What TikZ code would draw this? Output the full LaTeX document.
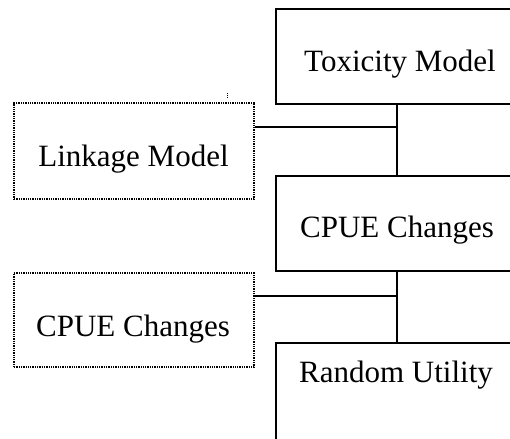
\documentclass[tikz,border=0pt]{standalone}
\usepackage{fontspec}
\setmainfont{Liberation Serif}
\begin{document}
\begin{tikzpicture}[x=1pt,y=-1pt,
  mainbox/.style={draw, line width=2.1pt, minimum width=248pt, inner sep=0pt},
  sidebox/.style={draw, line width=2pt, dash pattern=on 1.3pt off 1pt,
                  minimum width=240pt, inner sep=0pt},
  txt/.style={anchor=base, inner sep=0pt, font=\fontsize{31}{34}\selectfont},
  link/.style={line width=2.1pt}]
\useasboundingbox (0,0) rectangle (510,438);
\clip (0,0) rectangle (510,438);

% main chain of models on the right
\node[mainbox, minimum height=95pt]  (tox)  at (400,56.5)  {};
\node[mainbox, minimum height=95pt]  (cpue) at (400,223.5) {};
\node[mainbox, minimum height=110pt] (rum)  at (400,398)   {};
\node[txt] (toxt)  at (400,72)  {Toxicity Model};
\node[txt] (cpuet) at (397,237) {CPUE Changes};
\node[txt] (rumt)  at (396,382) {Random Utility};

% side inputs
\node[sidebox, minimum height=96pt] (lnk)  at (134,151) {};
\node[sidebox, minimum height=94pt] (cpl)  at (134,320) {};
\node[txt] (lnkt) at (133.5,167) {Linkage Model};
\node[txt] (cplt) at (133,336)   {CPUE Changes};

% junctions on the vertical trunk
\coordinate (j1) at (397,127);
\coordinate (j2) at (397,296);

\draw[link] (tox.south -| j1) -- (cpue.north -| j1);
\draw[link] (cpue.south -| j2) -- (rum.north -| j2);
\draw[link] (lnk.east |- j1) -- (j1);
\draw[link] (cpl.east |- j2) -- (j2);

% small stray tick above the linkage box
\draw[line width=0.8pt, dash pattern=on 1pt off 1pt] (227.5,93) -- (227.5,98);
\end{tikzpicture}
\end{document}
